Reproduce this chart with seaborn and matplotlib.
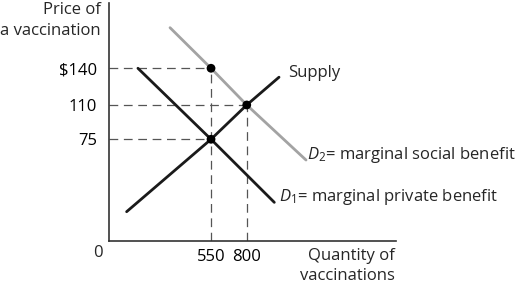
import numpy as np
import pandas as pd
import matplotlib
matplotlib.use("Agg")
import matplotlib.pyplot as plt
import seaborn as sns

# ---- data (price in $, quantity of vaccinations) ----
supply_q = [95, 550, 800, 1026]
supply_p = [21.6, 75, 110, 132.7]
d1_q = [156, 550, 993]
d1_p = [140, 75, 28.5]
d2_q = [329, 550, 800, 1215]
d2_p = [173.2, 140, 110, 59.7]
eq_q = [550, 800, 550]
eq_p = [140, 110, 75]
price_ticks = [75, 110, 140]
price_labels = ["75", "110", r"\$140"]
qty_ticks = [550, 800]
qty_labels = ["550", "800"]

sns.set_style("white")
plt.rcParams["font.family"] = ["Open Sans", "DejaVu Sans"]
plt.rcParams["mathtext.fontset"] = "custom"
plt.rcParams["mathtext.rm"] = "Open Sans"
plt.rcParams["mathtext.it"] = "Open Sans:italic"

FS = 12
W, H = 521, 285
fig = plt.figure(figsize=(W / 100, H / 100), dpi=100)
ax = fig.add_axes([109 / W, (H - 241) / H, (396 - 109) / W, (241 - 3) / H])

# schematic (non-proportional) axes, as in the textbook diagram
xk_d = [-5000, 0, 550, 800, 5000]
xk_p = [109 - 5000 * 0.1855, 109, 211, 246.7, 246.7 + 4200 * 0.1428]
yk_d = [-5000, 0, 75, 110, 140, 5000]
yk_p = [-5000 * 1.356, 0, 101.7, 136, 172.7, 172.7 + 4860 * 1.222]
ax.set_xscale("function", functions=(lambda v: np.interp(v, xk_d, xk_p),
                                     lambda v: np.interp(v, xk_p, xk_d)))
ax.set_yscale("function", functions=(lambda v: np.interp(v, yk_d, yk_p),
                                     lambda v: np.interp(v, yk_p, yk_d)))
ax.set_xlim(0, 1845)
ax.set_ylim(0, 193.4)

# dashed guides
dash_kw = dict(color="#555555", lw=0.9, dashes=(7, 4.5), zorder=1)
for q, p in zip(eq_q, eq_p):
    ax.plot([0, q], [p, p], **dash_kw)
for q, p in zip(eq_q[:2], eq_p[:2]):
    ax.plot([q, q], [0, p], **dash_kw)

df_s = pd.DataFrame({"q": supply_q, "p": supply_p})
df_d1 = pd.DataFrame({"q": d1_q, "p": d1_p})
df_d2 = pd.DataFrame({"q": d2_q, "p": d2_p})
sns.lineplot(data=df_d2, x="q", y="p", sort=False, estimator=None,
             color="#a3a3a3", lw=2.0, ax=ax, zorder=2)
sns.lineplot(data=df_d1, x="q", y="p", sort=False, estimator=None,
             color="#1a1a1a", lw=2.0, ax=ax, zorder=3)
sns.lineplot(data=df_s, x="q", y="p", sort=False, estimator=None,
             color="#1a1a1a", lw=2.0, ax=ax, zorder=3)
sns.scatterplot(x=eq_q, y=eq_p, color="black", s=40, edgecolor="none",
                ax=ax, zorder=4)

ax.set_xticks(qty_ticks)
ax.set_xticklabels(qty_labels)
ax.set_yticks(price_ticks)
ax.set_yticklabels(price_labels)
ax.minorticks_off()
ax.tick_params(axis="both", length=0, labelsize=FS, colors="black")
ax.tick_params(axis="y", pad=8.5)
ax.tick_params(axis="x", pad=5.5)
ax.set_xlabel("")
ax.set_ylabel("")
for s in ["top", "right"]:
    ax.spines[s].set_visible(False)
for s in ["left", "bottom"]:
    ax.spines[s].set_color("#333333")
    ax.spines[s].set_linewidth(1.2)

def fx(px):
    return px / W

def fy(py):
    return 1 - py / H

fig.text(fx(100.5), fy(2.5), "Price of\na vaccination", ha="right", va="top",
         fontsize=FS, linespacing=1.35)
fig.text(fx(98), fy(253), "0", ha="center", va="center", fontsize=FS)
fig.text(fx(395), fy(247.5), "Quantity of\nvaccinations", ha="right", va="top",
         fontsize=FS, linespacing=1.35)
fig.text(fx(288), fy(73), "Supply", ha="left", va="center", fontsize=FS)
fig.text(fx(307), fy(155), r"$D_2$= marginal social benefit", ha="left",
         va="center", fontsize=FS)
fig.text(fx(279), fy(197), r"$D_1$= marginal private benefit", ha="left",
         va="center", fontsize=FS)

fig.savefig("out.png", dpi=100)
